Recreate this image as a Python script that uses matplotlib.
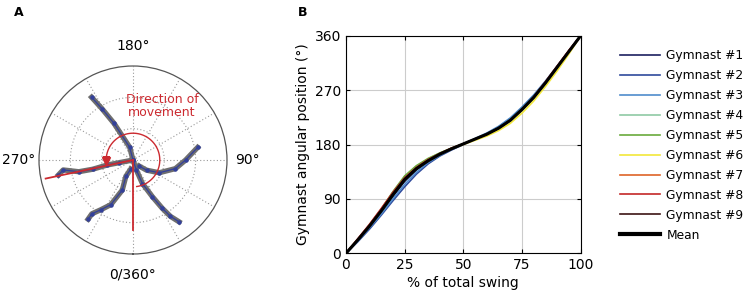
import numpy as np
import matplotlib
matplotlib.use("Agg")
import matplotlib.pyplot as plt

plt.rcParams['font.family'] = ['DejaVu Sans']

# ---- panel A: body postures (theta in deg, r normalised) ----
post_a_th = [213.4, 211.2, 207.4, 194.6, 0.0]
post_a_r = [0.80, 0.64, 0.44, 0.14, 0.0]
post_b_th = [45.0, 53.1, 64.0, 78.5, 90.0, 101.0]
post_b_r = [0.09, 0.18, 0.31, 0.46, 0.56, 0.70]
post_c_th = [0.0, 18.4, 21.8, 27.8, 31.2, 33.6, 36.7]
post_c_r = [0.0, 0.11, 0.27, 0.44, 0.60, 0.72, 0.82]
post_d_th = [346.0, 336.4, 340.4, 333.6, 327.1, 322.6, 322.8]
post_d_r = [0.10, 0.19, 0.34, 0.53, 0.63, 0.72, 0.79]
post_e_th = [0.0, 281.0, 281.0, 282.9, 282.2, 278.1, 281.4]
post_e_r = [0.0, 0.15, 0.28, 0.44, 0.59, 0.75, 0.81]
postures = [(post_a_th, post_a_r), (post_b_th, post_b_r), (post_c_th, post_c_r),
            (post_d_th, post_d_r), (post_e_th, post_e_r)]

red_th = [0.0, 282.0]
red_r = [0.74, 0.95]
arc_start, arc_end, arc_r = 8.0, 272.0, 0.285

# ---- panel B: angular position vs % swing ----
pct = [0, 5, 10, 15, 20, 25, 30, 35, 40, 45, 50, 55, 60, 65, 70, 75, 80, 85, 90, 95, 100]
g1 = [0, 21, 44, 68, 94, 119, 138, 152, 164, 173, 181, 189, 198, 208, 221, 239, 259, 283, 309, 335, 360]
g2 = [0, 19, 40, 63, 87, 110, 131, 148, 161, 171, 180, 189, 198, 209, 223, 241, 261, 284, 309, 335, 360]
g3 = [0, 20, 42, 65, 90, 114, 134, 150, 162, 172, 181, 190, 199, 210, 224, 242, 262, 285, 310, 335, 360]
g4 = [0, 23, 47, 73, 101, 127, 144, 156, 166, 174, 181, 189, 197, 207, 220, 237, 257, 281, 307, 333, 360]
g5 = [0, 23, 47, 73, 102, 128, 145, 157, 166, 174, 181, 189, 197, 206, 219, 237, 257, 281, 307, 334, 360]
g6 = [0, 22, 45, 70, 97, 122, 140, 153, 164, 173, 180, 187, 194, 203, 215, 232, 252, 276, 302, 330, 360]
g7 = [0, 23, 46, 72, 99, 124, 142, 155, 165, 174, 181, 189, 197, 207, 220, 238, 258, 283, 309, 335, 360]
g8 = [0, 24, 48, 74, 101, 125, 142, 155, 165, 174, 181, 189, 197, 207, 220, 238, 259, 284, 310, 336, 360]
g9 = [0, 22, 45, 71, 98, 123, 141, 154, 165, 173, 181, 189, 197, 207, 220, 238, 258, 282, 308, 334, 360]
mean = [0, 22, 45, 70, 97, 122, 140, 153, 164, 173, 181, 189, 197, 207, 220, 238, 258, 282, 308, 334, 360]
gyms = [g1, g2, g3, g4, g5, g6, g7, g8, g9]
names = ['Gymnast #%d' % (i + 1) for i in range(9)]
colors = ['#1c2060', '#2f4a9c', '#4f8ccc', '#8fcaa4', '#6aaa3c',
          '#f2e83a', '#de6428', '#c42828', '#3c1414']

fig = plt.figure(figsize=(7.44, 3.02), dpi=100)

# polar panel
cx, cy, R = 133, 160, 94
axp = fig.add_axes([(cx - R) / 744, (302 - cy - R) / 302, 2 * R / 744, 2 * R / 302],
                   projection='polar')
axp.set_theta_zero_location('S')
axp.set_theta_direction(1)
axp.set_ylim(0, 1)
axp.set_rgrids([1 / 3, 2 / 3], labels=['', ''])
lbl = ['0/360°', '', '', '90°', '', '', '180°', '', '', '270°', '', '']
axp.set_thetagrids(np.arange(0, 360, 30), labels=lbl, fontsize=10)
axp.tick_params(axis='x', pad=4)
axp.grid(True, linestyle=(0, (1, 2)), color='#999999', lw=0.8)
axp.spines['polar'].set_color('#555555')
axp.spines['polar'].set_linewidth(0.9)

for th, r in postures:
    t = np.radians(th)
    axp.plot(t, r, color='#6e6e6e', lw=3.8, solid_joinstyle='round', zorder=2)
    axp.plot(t, r, color='#33409a', lw=0.9, marker='o', ms=2.2, zorder=3)

for th, r in zip(red_th, red_r):
    axp.plot([0, np.radians(th)], [0, r], color='#cc2a30', lw=1.3, zorder=4)
arc_t = np.radians(np.linspace(arc_start, arc_end, 100))
axp.plot(arc_t, np.full_like(arc_t, arc_r), color='#cc2a30', lw=1, zorder=4)
axp.plot(np.radians(arc_end), arc_r, marker='v', color='#cc2a30', ms=6, zorder=5)

fig.text(162 / 744, 1 - 106 / 302, 'Direction of\nmovement', color='#cc2a30',
         ha='center', va='center', fontsize=9, linespacing=1.0)

# line panel
ax = fig.add_axes([346 / 744, 48.7 / 302, 234.7 / 744, 217.6 / 302])
for y, c, n in zip(gyms, colors, names):
    ax.plot(pct, y, color=c, lw=1.2, label=n)
ax.plot(pct, mean, color='black', lw=2.2, label='Mean')
ax.set_xlim(0, 100)
ax.set_ylim(0, 360)
ax.set_xticks([0, 25, 50, 75, 100])
ax.set_yticks([0, 90, 180, 270, 360])
ax.grid(True, color='#cccccc', lw=0.8)
ax.set_axisbelow(True)
ax.tick_params(direction='in', length=3, labelsize=10, top=True, right=True)
ax.set_xlabel('% of total swing', fontsize=10, labelpad=3)
ax.set_ylabel('Gymnast angular position (°)', fontsize=10, labelpad=3)

leg = fig.legend(loc='upper left', bbox_to_anchor=(620 / 744, 1 - 49 / 302),
                 frameon=False, fontsize=8.8, handlelength=3.3, handletextpad=0.5,
                 labelspacing=0.57, borderpad=0, borderaxespad=0)
leg.get_lines()[-1].set_linewidth(3)

fig.text(14 / 744, 1 - 12 / 302, 'A', fontsize=9, fontweight='bold', va='center')
fig.text(298 / 744, 1 - 12 / 302, 'B', fontsize=9, fontweight='bold', va='center')

fig.savefig('out.png', dpi=100)
